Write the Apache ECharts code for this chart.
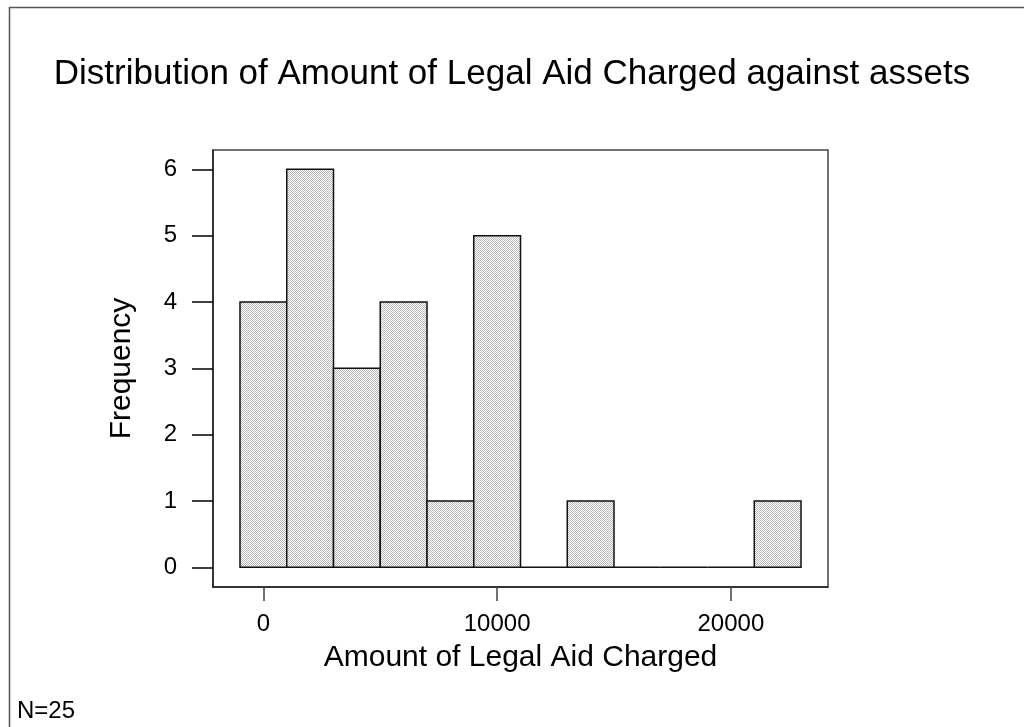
<!DOCTYPE html>
<html>
<head>
<meta charset="utf-8">
<script src="https://cdn.jsdelivr.net/npm/echarts@6/dist/echarts.min.js"></script>
<style>
html,body{margin:0;padding:0;background:#fff;}
#chart{width:1024px;height:727px;}
</style>
</head>
<body>
<div id="chart"></div>
<script>
// Data
const binStarts = [-1000, 1000, 3000, 5000, 7000, 9000, 11000, 13000, 15000, 17000, 19000, 21000];
const binWidth = 2000;
const counts = [4, 6, 3, 4, 1, 5, 0, 1, 0, 0, 0, 1];
const xTicks = [0, 10000, 20000];
const yTicks = [0, 1, 2, 3, 4, 5, 6];
const titleText = 'Distribution of Amount of Legal Aid Charged against assets';
const xName = 'Amount of Legal Aid Charged';
const yName = 'Frequency';
const noteText = 'N=25';

// pattern fill
const pc = document.createElement('canvas');
pc.width = 4; pc.height = 4;
const pctx = pc.getContext('2d');
pctx.fillStyle = '#ffffff';
pctx.fillRect(0, 0, 4, 4);
pctx.fillStyle = '#b8b8b8';
for (let i = 0; i < 4; i++) { pctx.fillRect(i, i, 1, 1); pctx.fillRect((i + 2) % 4, i, 1, 1); }

const data = binStarts.map((s, i) => [s, s + binWidth, counts[i]]);

const chart = echarts.init(document.getElementById('chart'), null, {renderer: 'canvas'});
const FONT = '"Liberation Sans", Arial, sans-serif';
chart.setOption({
  animation: false,
  backgroundColor: '#ffffff',
  title: {
    text: titleText,
    left: 'center',
    top: 52,
    textStyle: {fontFamily: FONT, fontSize: 35, fontWeight: 'normal', color: '#000'}
  },
  grid: {
    left: 213, top: 150, width: 615, height: 437,
    show: true, borderColor: '#444', borderWidth: 1.5, backgroundColor: 'transparent'
  },
  xAxis: {
    type: 'value',
    min: -2155, max: 24154,
    name: xName,
    nameLocation: 'middle',
    nameGap: 56,
    nameTextStyle: {fontFamily: FONT, fontSize: 30, color: '#000'},
    axisLine: {show: true, onZero: false, lineStyle: {color: '#222', width: 1.5}},
    axisTick: {show: true, length: 14, customValues: xTicks, lineStyle: {color: '#444', width: 1.5}},
    axisLabel: {customValues: xTicks, margin: 25, fontFamily: FONT, fontSize: 24, color: '#000',
      formatter: function (v) { return String(v); }},
    splitLine: {show: false}
  },
  yAxis: {
    type: 'value',
    min: -0.297, max: 6.291,
    name: yName,
    nameLocation: 'middle',
    nameGap: 76,
    nameRotate: 90,
    nameTextStyle: {fontFamily: FONT, fontSize: 30, color: '#000'},
    axisLine: {show: true, onZero: false, lineStyle: {color: '#222', width: 1.5}},
    axisTick: {show: true, length: 21, customValues: yTicks, lineStyle: {color: '#000', width: 1.5}},
    axisLabel: {customValues: yTicks, margin: 36, fontFamily: FONT, fontSize: 24, color: '#000',
      formatter: function (v) { return String(v); }},
    splitLine: {show: false}
  },
  graphic: [
    {type: 'rect', left: 7, top: 5, silent: true,
     shape: {x: 0, y: 0, width: 1100, height: 800},
     style: {fill: 'none', stroke: '#555', lineWidth: 1.5}},
    {type: 'text', left: 17, top: 699,
     style: {text: noteText, font: '24px ' + FONT, fill: '#000'}}
  ],
  series: [{
    type: 'custom',
    data: data,
    renderItem: function (params, api) {
      const p0 = api.coord([api.value(0), 0]);
      const p1 = api.coord([api.value(1), api.value(2)]);
      return {
        type: 'rect',
        shape: {x: p0[0], y: p1[1], width: p1[0] - p0[0], height: p0[1] - p1[1]},
        style: {fill: {image: pc, repeat: 'repeat'}, stroke: '#111', lineWidth: 1.5}
      };
    },
    encode: {x: [0, 1], y: 2}
  }]
});
</script>
</body>
</html>
